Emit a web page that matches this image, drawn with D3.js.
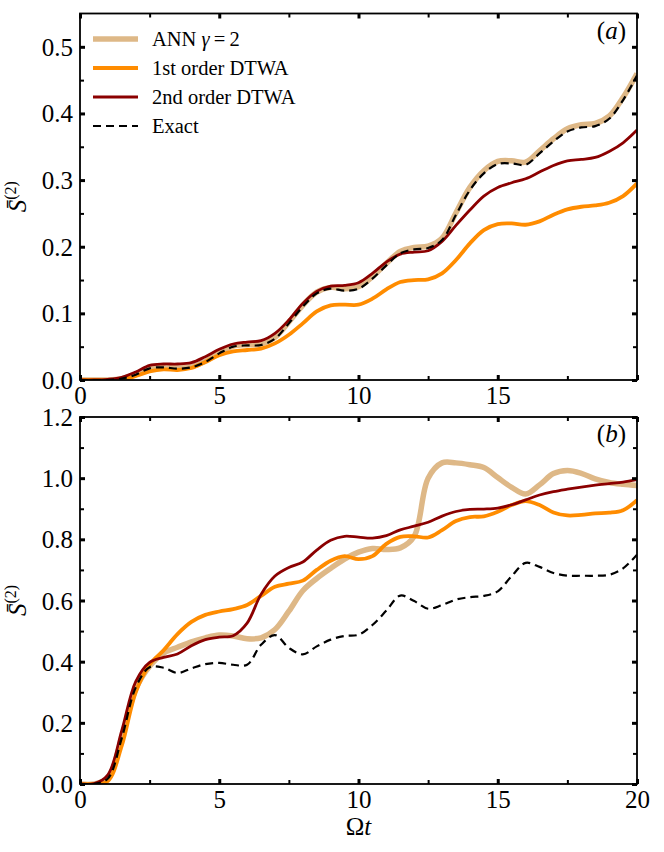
<!DOCTYPE html>
<html><head><meta charset="utf-8">
<script src="https://cdn.jsdelivr.net/npm/d3@7"></script>
<style>body{margin:0;background:#fff} svg{display:block}</style>
</head><body>
<svg id="chart" width="664" height="852"></svg>
<script>
// ---- data ----
const timeGrid = [0,0.5,1,1.5,2,2.5,3,3.5,4,4.5,5,5.5,6,6.5,7,7.5,8,8.5,9,9.5,10,10.5,11,11.5,12,12.5,13,13.5,14,14.5,15,15.5,16,16.5,17,17.5,18,18.5,19,19.5,20];

const seriesNames = ["ANN \u03b3 = 2", "1st order DTWA", "2nd order DTWA", "Exact"];

// panel (a)
const annA   = [0,0,0,0.002,0.008,0.018,0.020,0.018,0.020,0.028,0.041,0.051,0.053,0.054,0.064,0.087,0.112,0.132,0.139,0.137,0.140,0.155,0.175,0.193,0.199,0.201,0.213,0.251,0.289,0.314,0.328,0.329,0.327,0.344,0.362,0.377,0.383,0.385,0.396,0.424,0.460];
const dtwa1A = [0,0,0,0.001,0.006,0.013,0.016,0.015,0.018,0.027,0.037,0.043,0.045,0.047,0.055,0.068,0.085,0.103,0.112,0.113,0.113,0.122,0.136,0.147,0.150,0.151,0.160,0.180,0.205,0.225,0.234,0.235,0.233,0.238,0.248,0.256,0.260,0.262,0.266,0.276,0.295];
const dtwa2A = [0,0,0.001,0.004,0.012,0.022,0.024,0.024,0.026,0.035,0.046,0.054,0.057,0.059,0.070,0.090,0.115,0.133,0.141,0.142,0.146,0.160,0.177,0.189,0.192,0.194,0.208,0.232,0.255,0.276,0.289,0.296,0.302,0.312,0.322,0.329,0.331,0.334,0.343,0.356,0.375];
const exactA = [0,0,0,0.002,0.008,0.0175,0.019,0.017,0.019,0.027,0.040,0.050,0.052,0.0525,0.062,0.085,0.110,0.130,0.137,0.134,0.137,0.152,0.172,0.190,0.196,0.198,0.210,0.248,0.285,0.310,0.324,0.325,0.323,0.340,0.358,0.373,0.379,0.381,0.392,0.420,0.457];

// panel (b)
const annB   = [0,0,0.018,0.150,0.310,0.385,0.428,0.447,0.465,0.478,0.487,0.484,0.475,0.478,0.505,0.565,0.632,0.672,0.705,0.735,0.758,0.770,0.767,0.772,0.810,1.000,1.050,1.050,1.044,1.035,1.002,0.970,0.948,0.978,1.015,1.025,1.016,0.998,0.986,0.980,0.976];
const dtwa1B = [0,0,0.010,0.125,0.300,0.390,0.437,0.490,0.530,0.553,0.564,0.572,0.585,0.615,0.645,0.655,0.665,0.700,0.730,0.745,0.735,0.745,0.785,0.808,0.810,0.806,0.830,0.860,0.873,0.875,0.890,0.912,0.925,0.912,0.888,0.878,0.880,0.885,0.887,0.895,0.928];
const dtwa2B = [0,0.001,0.030,0.175,0.335,0.398,0.414,0.425,0.452,0.472,0.480,0.485,0.526,0.620,0.680,0.708,0.726,0.765,0.797,0.810,0.807,0.804,0.812,0.831,0.843,0.856,0.876,0.891,0.898,0.899,0.902,0.913,0.929,0.945,0.956,0.964,0.971,0.977,0.982,0.987,0.995];
const exactB = [0,0,0.018,0.150,0.315,0.382,0.380,0.363,0.378,0.392,0.396,0.390,0.390,0.455,0.487,0.445,0.424,0.450,0.472,0.484,0.488,0.520,0.567,0.616,0.598,0.573,0.585,0.603,0.611,0.615,0.630,0.680,0.723,0.710,0.690,0.681,0.681,0.681,0.684,0.705,0.750];

const xMajorTicks = [0,5,10,15,20];
const xMinorTicks = [2.5,7.5,12.5,17.5];
const yMajorTicksA = [0,0.1,0.2,0.3,0.4,0.5];
const yMinorTicksA = [0.05,0.15,0.25,0.35,0.45];
const yMajorTicksB = [0,0.2,0.4,0.6,0.8,1.0,1.2];
const yMinorTicksB = [0.1,0.3,0.5,0.7,0.9,1.1];

// ---- styles ----
const styles = [
  {color:"#DEB887", width:5.5, dash:null},
  {color:"#FF8C00", width:3.8, dash:null},
  {color:"#8B0000", width:2.8, dash:null},
  {color:"#000000", width:2.2, dash:"8,5"}
];

const svg = d3.select("#chart");
const FONT = "'Liberation Serif', 'Times New Roman', 'DejaVu Serif', serif";
const left = 80, right = 637;

const x = d3.scaleLinear().domain([0,20]).range([left,right]);

function panel(id, top, bottom, yMax, series, yMaj, yMin, yFmt, xLabels, tag) {
  const y = d3.scaleLinear().domain([0,yMax]).range([bottom, top]);
  const g = svg.append("g");
  g.append("clipPath").attr("id","clip"+id).append("rect")
    .attr("x",left).attr("y",top).attr("width",right-left).attr("height",bottom-top);

  const line = d3.line().x((d,i)=>x(timeGrid[i])).y(d=>y(d)).curve(d3.curveCatmullRom.alpha(0.5));
  const lg = g.append("g").attr("clip-path","url(#clip"+id+")");
  series.forEach((s,k)=>{
    lg.append("path").datum(s).attr("d",line).attr("fill","none")
      .attr("stroke",styles[k].color).attr("stroke-width",styles[k].width)
      .attr("stroke-dasharray",styles[k].dash).attr("stroke-linejoin","round");
  });

  // frame
  g.append("rect").attr("x",left).attr("y",top).attr("width",right-left).attr("height",bottom-top)
    .attr("fill","none").attr("stroke","#000").attr("stroke-width",1.8);

  const tickStyle = (sel, w) => { sel.select(".domain").remove(); sel.selectAll(".tick line").attr("stroke","#000").attr("stroke-width",w); };

  // bottom
  g.append("g").attr("transform",`translate(0,${bottom})`)
    .call(d3.axisBottom(x).tickValues(xMajorTicks).tickSize(-5).tickPadding(8).tickFormat(d=> xLabels.includes(d)? d3.format("d")(d):""))
    .call(s=>tickStyle(s,3))
    .call(s=>s.selectAll("text").attr("font-family",FONT).attr("font-size",25).attr("fill","#000").attr("dy","0.64em"));
  g.append("g").attr("transform",`translate(0,${bottom})`)
    .call(d3.axisBottom(x).tickValues(xMinorTicks).tickSize(-4).tickFormat(""))
    .call(s=>tickStyle(s,2));
  // top
  g.append("g").attr("transform",`translate(0,${top})`)
    .call(d3.axisTop(x).tickValues(xMajorTicks).tickSize(-5).tickFormat(""))
    .call(s=>tickStyle(s,3));
  g.append("g").attr("transform",`translate(0,${top})`)
    .call(d3.axisTop(x).tickValues(xMinorTicks).tickSize(-4).tickFormat(""))
    .call(s=>tickStyle(s,2));
  // left
  g.append("g").attr("transform",`translate(${left},0)`)
    .call(d3.axisLeft(y).tickValues(yMaj).tickSize(-5).tickPadding(7).tickFormat(yFmt))
    .call(s=>tickStyle(s,3))
    .call(s=>s.selectAll("text").attr("font-family",FONT).attr("font-size",25).attr("fill","#000").attr("dy","0.34em"));
  g.append("g").attr("transform",`translate(${left},0)`)
    .call(d3.axisLeft(y).tickValues(yMin).tickSize(-4).tickFormat(""))
    .call(s=>tickStyle(s,2));
  // right
  g.append("g").attr("transform",`translate(${right},0)`)
    .call(d3.axisRight(y).tickValues(yMaj).tickSize(-5).tickFormat(""))
    .call(s=>tickStyle(s,3));
  g.append("g").attr("transform",`translate(${right},0)`)
    .call(d3.axisRight(y).tickValues(yMin).tickSize(-4).tickFormat(""))
    .call(s=>tickStyle(s,2));

  // y label
  const cy = (top+bottom)/2;
  const yl = g.append("text").attr("transform",`translate(26,${cy}) rotate(-90)`)
    .attr("text-anchor","middle").attr("font-family",FONT).attr("font-size",25).attr("fill","#000");
  yl.append("tspan").attr("font-style","italic").text("S\u0304");
  yl.append("tspan").attr("font-size",16).attr("dy",-10).text("(2)");

  // panel tag
  const t = g.append("text").attr("x",626).attr("y",top+25).attr("text-anchor","end")
    .attr("font-family",FONT).attr("font-size",25).attr("fill","#000");
  t.append("tspan").text("(");
  t.append("tspan").attr("font-style","italic").text(tag);
  t.append("tspan").text(")");
  return y;
}

panel("A", 13.5, 380, 0.55, [annA, dtwa1A, dtwa2A, exactA], yMajorTicksA, yMinorTicksA, d3.format(".1f"), [0,5,10,15], "a");
panel("B", 417, 784, 1.2, [annB, dtwa1B, dtwa2B, exactB], yMajorTicksB, yMinorTicksB, d3.format(".1f"), [0,5,10,15,20], "b");

// legend
const legend = svg.append("g");
seriesNames.forEach((name,k)=>{
  const ly = 39 + k*29;
  legend.append("line").attr("x1",93).attr("x2",138).attr("y1",ly).attr("y2",ly)
    .attr("stroke",styles[k].color).attr("stroke-width",styles[k].width)
    .attr("stroke-dasharray",styles[k].dash);
  const tx = legend.append("text").attr("x",152).attr("y",ly+7)
    .attr("font-family",FONT).attr("font-size",20.5).attr("fill","#000");
  if (k===0) {
    tx.append("tspan").text("ANN ");
    tx.append("tspan").attr("font-style","italic").text("\u03b3");
    tx.append("tspan").text("\u2009=\u20092");
  } else {
    tx.text(name);
  }
});

// x label
const xl = svg.append("text").attr("x",(left+right)/2).attr("y",835).attr("text-anchor","middle")
  .attr("font-family",FONT).attr("font-size",25).attr("fill","#000");
xl.append("tspan").text("\u03a9");
xl.append("tspan").attr("font-style","italic").text("t");
</script>
</body></html>
